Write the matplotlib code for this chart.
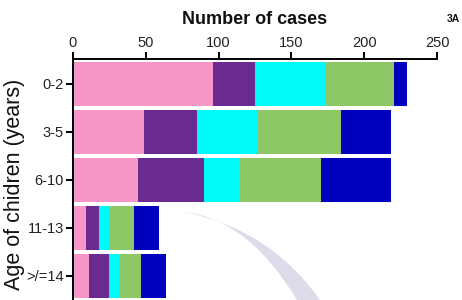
import matplotlib
matplotlib.use("Agg")
import matplotlib.pyplot as plt
import numpy as np
from matplotlib.path import Path
from matplotlib.patches import PathPatch

plt.rcParams['font.family'] = ['Liberation Sans', 'DejaVu Sans']

categories = ["0-2", "3-5", "6-10", "11-13", ">/=14"]
pink = [96, 49, 45, 9, 11]
purple = [29, 36, 45, 9, 14]
cyan = [48, 42, 25, 7, 7]
green = [47, 57, 55, 17, 15]
blue = [9, 34, 48, 17, 17]
xticks = [0, 50, 100, 150, 200, 250]

series = [pink, purple, cyan, green, blue]
colors = ["#F797C8", "#6A2A90", "#00FAFA", "#8EC765", "#0000BE"]

W, H = 462, 300
fig = plt.figure(figsize=(W / 100, H / 100), dpi=100)

# faint watermark swoosh (figure pixel coordinates, y downwards)
def px(x, y):
    return (x / W, 1 - y / H)
verts = [px(185, 212), px(271, 230), px(320, 300), px(326, 312),
         px(302, 312), px(297, 300), px(249, 220), px(185, 212), px(185, 212)]
codes = [Path.MOVETO, Path.CURVE3, Path.CURVE3, Path.LINETO, Path.LINETO,
         Path.LINETO, Path.CURVE3, Path.CURVE3, Path.CLOSEPOLY]
fig.patches.append(PathPatch(Path(verts, codes), transform=fig.transFigure,
                             facecolor="#DCDBE9", edgecolor="none", zorder=0))

ax = fig.add_axes([72.7 / W, 0, 364.6 / W, 241 / H])
ax.patch.set_alpha(0)

y = np.arange(len(categories))
left = np.zeros(len(categories))
for vals, c in zip(series, colors):
    ax.barh(y, vals, left=left, height=0.9, color=c, edgecolor="none", zorder=2)
    left = left + np.array(vals)

ax.set_xlim(0, 250)
ax.set_ylim(4.5, -0.52)
ax.set_xticks(xticks)
ax.set_yticks(y)
ax.set_yticklabels(categories)
ax.xaxis.tick_top()
ax.spines['bottom'].set_visible(False)
ax.spines['right'].set_visible(False)
for s in ['top', 'left']:
    ax.spines[s].set_linewidth(1.4)
ax.tick_params(axis='both', direction='out', length=5, width=1.4,
               labelsize=10.5, colors='black', pad=1.5)
for lab in ax.get_xticklabels() + ax.get_yticklabels():
    lab.set_color('#222222')

fig.text((72.7 + 182.3) / W, 1 - 20 / H, "Number of cases", ha='center', va='center',
         fontsize=13, fontweight='bold', color='#111111')
fig.text(453 / W, 1 - 19 / H, "3A", ha='center', va='center',
         fontsize=7.5, fontweight='bold', color='#111111')
fig.text(15 / W, 1 - 184 / H, "Age of chidren (years)", rotation=90,
         ha='center', va='center', fontsize=15.5, color='#111111')

fig.savefig("out.png", dpi=100)
